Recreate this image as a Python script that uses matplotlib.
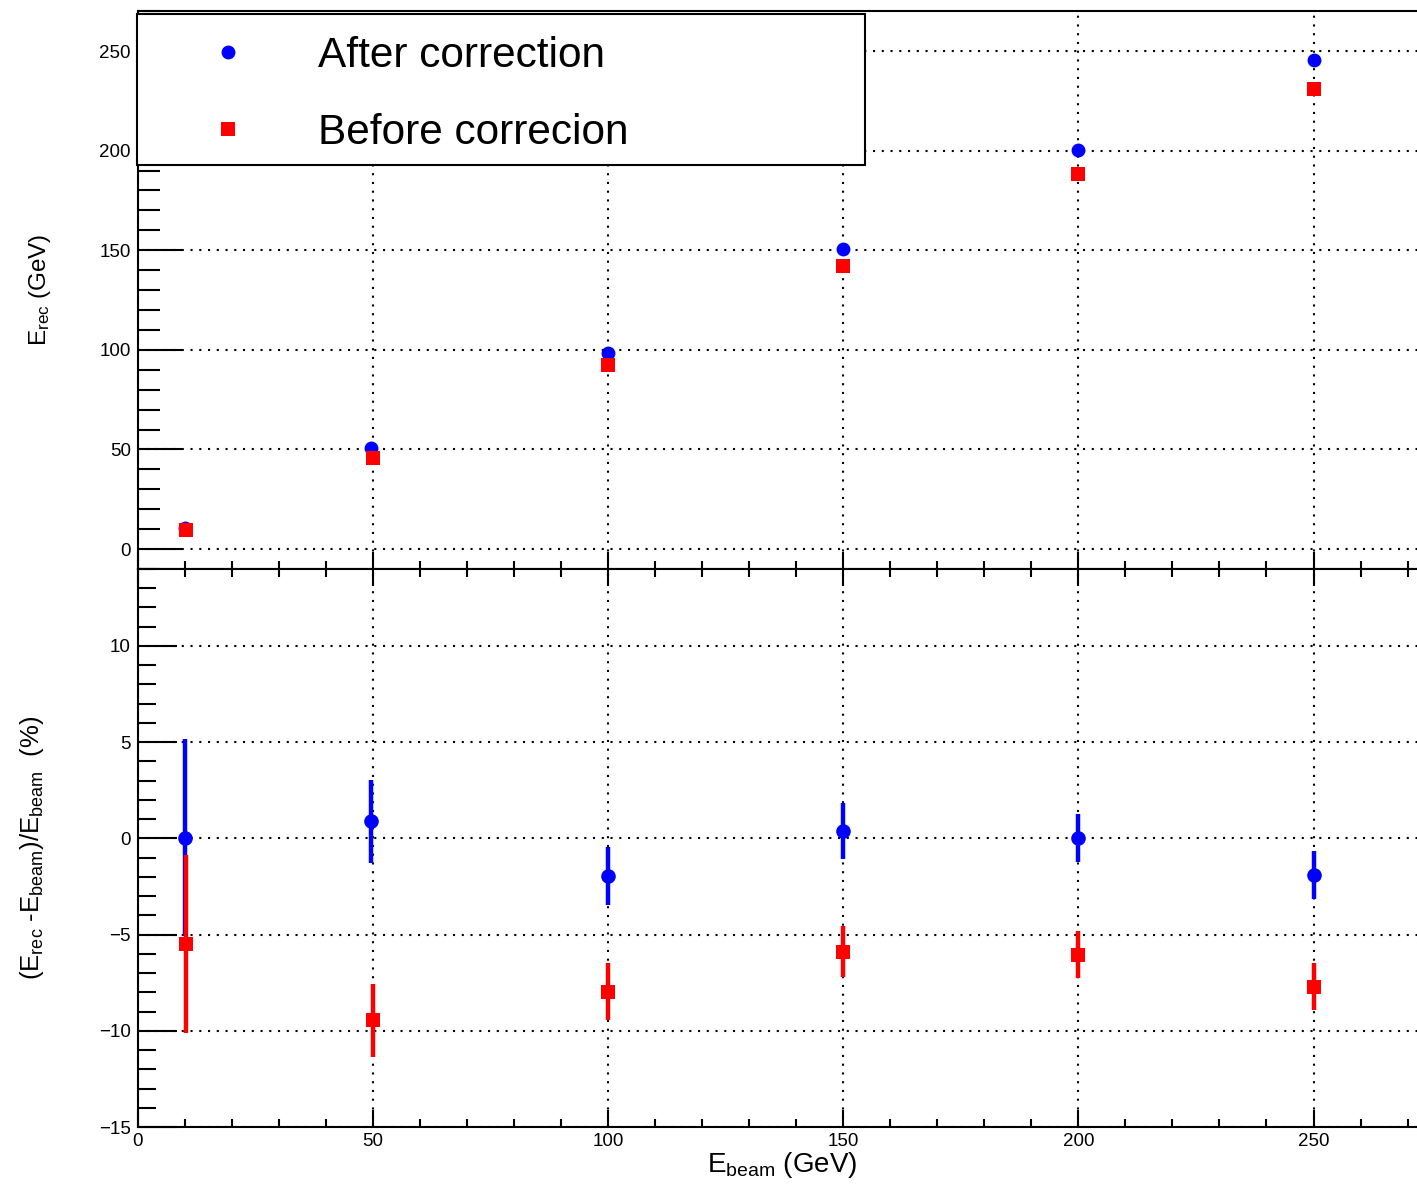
import matplotlib
matplotlib.use("Agg")
import matplotlib.pyplot as plt
from matplotlib.patches import Rectangle
from matplotlib.ticker import MultipleLocator

plt.rcParams["font.family"] = ["Liberation Sans", "DejaVu Sans"]
plt.rcParams["mathtext.fontset"] = "custom"
plt.rcParams["mathtext.rm"] = "Liberation Sans"
plt.rcParams["mathtext.it"] = "Liberation Sans"

# beam energies (GeV)
e_beam_after = [10, 49.7, 100, 150, 200, 250]
e_beam_before = [10.3, 50, 100, 150, 200, 250]

# reconstructed energy (GeV)
e_rec_after = [10.5, 50.7, 98.4, 150.6, 200.3, 245.4]
e_rec_before = [9.5, 45.7, 92.4, 142.0, 188.3, 231.0]

# relative deviation (%) and errors
dev_after = [0.03, 0.88, -1.96, 0.39, 0.03, -1.91]
dev_after_err = [5.12, 2.14, 1.49, 1.44, 1.25, 1.23]
dev_before = [-5.50, -9.45, -7.97, -5.88, -6.04, -7.71]
dev_before_err = [4.64, 1.89, 1.49, 1.33, 1.23, 1.23]

labels = ["After correction", "Before correcion"]

W, H = 1417, 1188
fig = plt.figure(figsize=(W / 100, H / 100), dpi=100)

left = 137.7 / W
width = 1 - left
ax_top = fig.add_axes([left, 1 - 569 / H, width, (569 - 11.2) / H])
ax_bot = fig.add_axes([left, 1 - 1127 / H, width, (1127 - 569) / H])

grid_kw = dict(color="black", linewidth=1.5, linestyle=(0, (1, 3.2)))

for ax in (ax_top, ax_bot):
    ax.set_xlim(0, 272)
    ax.xaxis.set_major_locator(MultipleLocator(50))
    ax.xaxis.set_minor_locator(MultipleLocator(10))
    ax.grid(True, which="major", **grid_kw)
    ax.set_axisbelow(True)
    ax.spines["right"].set_visible(False)
    for s in ("left", "top", "bottom"):
        ax.spines[s].set_linewidth(1.5)
    ax.tick_params(axis="both", which="both", direction="in", width=1.5,
                   labelsize=13.5, colors="black")
    ax.tick_params(axis="x", which="major", length=12, pad=4)
    ax.tick_params(axis="x", which="minor", length=6)

# top panel
ax_top.set_ylim(-10, 270)
ax_top.yaxis.set_major_locator(MultipleLocator(50))
ax_top.yaxis.set_minor_locator(MultipleLocator(10))
ax_top.tick_params(axis="y", which="major", length=32, pad=5)
ax_top.tick_params(axis="y", which="minor", length=16)
ax_top.tick_params(axis="x", which="both", labelbottom=False)

h1, = ax_top.plot(e_beam_after, e_rec_after, "o", color="blue", ms=10, mew=0)
h2, = ax_top.plot(e_beam_before, e_rec_before, "s", color="red", ms=9.5, mew=0)
ax_top.set_ylabel(r"E$_{\mathrm{rec}}$ (GeV)", fontsize=17.5)
ax_top.yaxis.set_label_coords(-0.066, 0.5)

# legend box (ROOT style TLegend)
box = Rectangle((137 / W, 1 - 165 / H), 728 / W, 151 / H,
                transform=fig.transFigure, facecolor="white",
                edgecolor="black", linewidth=1.5, zorder=4.5, clip_on=False)
ax_top.add_patch(box)
leg = ax_top.legend([h1, h2], labels, loc="upper left",
                    bbox_to_anchor=(137 / W, 1 - 22 / H),
                    bbox_transform=fig.transFigure,
                    borderaxespad=0, fontsize=30.5, numpoints=1,
                    handlelength=3.63, handletextpad=0.31,
                    borderpad=0.33, labelspacing=0.87, frameon=False)
leg.set_zorder(5)

# bottom panel
ax_bot.set_ylim(-15, 14)
ax_bot.yaxis.set_major_locator(MultipleLocator(5))
ax_bot.yaxis.set_minor_locator(MultipleLocator(1))
ax_bot.tick_params(axis="y", which="major", length=28, pad=5)
ax_bot.tick_params(axis="y", which="minor", length=13)
ax_bot.tick_params(axis="x", which="both", top=True)

ax_bot.errorbar(e_beam_after, dev_after, yerr=dev_after_err, fmt="o",
                color="blue", ms=10.5, mew=0, elinewidth=3.2, capsize=3.5,
                capthick=3)
ax_bot.errorbar(e_beam_before, dev_before, yerr=dev_before_err, fmt="s",
                color="red", ms=10, mew=0, elinewidth=3.2, capsize=3.5,
                capthick=3)

ax_bot.set_ylabel(r"(E$_{\mathrm{rec}}$ -E$_{\mathrm{beam}}$)/E$_{\mathrm{beam}}$  (%)",
                  fontsize=18.5)
ax_bot.yaxis.set_label_coords(-0.072, 0.5)
ax_bot.set_xlabel(r"E$_{\mathrm{beam}}$ (GeV)", fontsize=20, va="top")
ax_bot.xaxis.set_label_coords(0.504, -0.042)

fig.savefig("out.png", dpi=100)
